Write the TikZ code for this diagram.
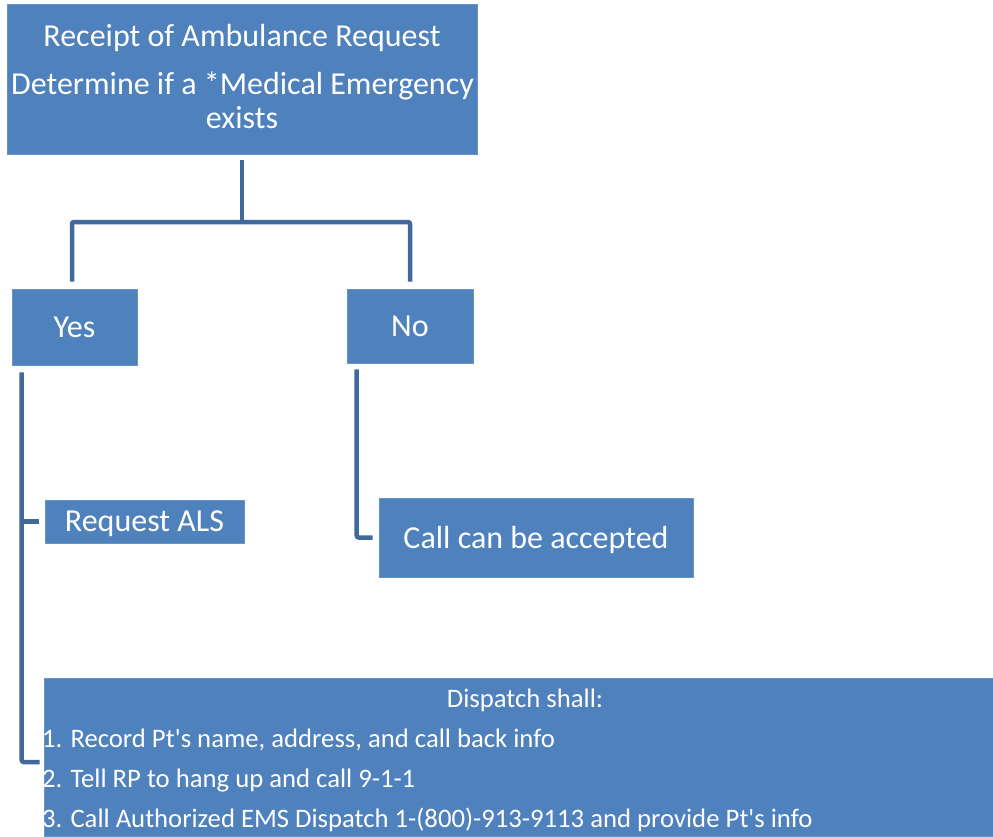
\documentclass[tikz,border=0pt]{standalone}
\usepackage{fontspec}
\setmainfont{Carlito}
\usetikzlibrary{calc}
\definecolor{boxblue}{RGB}{79,129,189}
\definecolor{lineblue}{RGB}{65,105,155}
\newcommand{\apos}{\textquotesingle}
\begin{document}
\begin{tikzpicture}[x=1pt,y=-1pt,
  box/.style={draw=boxblue!85!white, line width=0.6pt, fill=boxblue, text=white, inner sep=0pt, text depth=0pt},
  conn/.style={draw=lineblue, line width=4.5pt, rounded corners=2pt},
  big/.style={font=\fontsize{32}{38}\selectfont},
  small/.style={font=\fontsize{26.7}{32}\selectfont},
  txt/.style={text=white, inner sep=0pt}]
\useasboundingbox (0,0) rectangle (993,836);
% boxes
\node[box, minimum width=470pt, minimum height=150pt] (top) at (242,79) {};
\node[txt, big, anchor=base] (t1) at (242,46) {Receipt of Ambulance Request};
\node[txt, big, anchor=base] (t2) at (242.5,94) {Determine if a *Medical Emergency};
\node[txt, big, anchor=base] (t3) at (242,128) {exists};
\node[box, big, minimum width=125pt, minimum height=76pt] (yes) at (74.5,327) {Yes};
\node[box, big, minimum width=126pt, minimum height=74pt] (no) at (410,326) {No};
\node[box, big, minimum width=199pt, minimum height=43pt] (als) at (144.5,521.5) {Request ALS};
\node[box, big, minimum width=314pt, minimum height=79pt] (acc) at (536,537.5) {Call can be accepted};
\node[box, minimum width=949pt, minimum height=158pt] (disp) at (518.5,757) {};
\begin{scope}
  \clip (disp.south west) rectangle (disp.north east);
  \node[txt, small, anchor=base] (d0) at (525,707) {Dispatch shall:};
  \node[txt, small, anchor=base west] (d1) at (42,747) {1. Record Pt\apos s name, address, and call back info};
  \node[txt, small, anchor=base west] (d2) at (42,787) {2. Tell RP to hang up and call 9-1-1};
  \node[txt, small, anchor=base west] (d3) at (42,827) {3. Call Authorized EMS Dispatch 1-(800)-913-9113 and provide Pt\apos s info};
\end{scope}
% connectors
\coordinate (j) at (242,222);
\draw[conn] ([yshift=-6pt]top.south) -- (j);
\draw[conn] ([xshift=-2.5pt,yshift=7pt]yes.north) |- (j) -| ([yshift=7pt]no.north);
\draw[conn] ([xshift=10pt,yshift=-7pt]yes.south west) |- ([xshift=-4pt,yshift=-5pt]disp.west);
\draw[conn] ([xshift=-6pt]als.west) -- ++(-18,0);
\draw[conn] ([xshift=10pt,yshift=-6pt]no.south west) |- ([xshift=-6pt]acc.west);
\end{tikzpicture}
\end{document}
